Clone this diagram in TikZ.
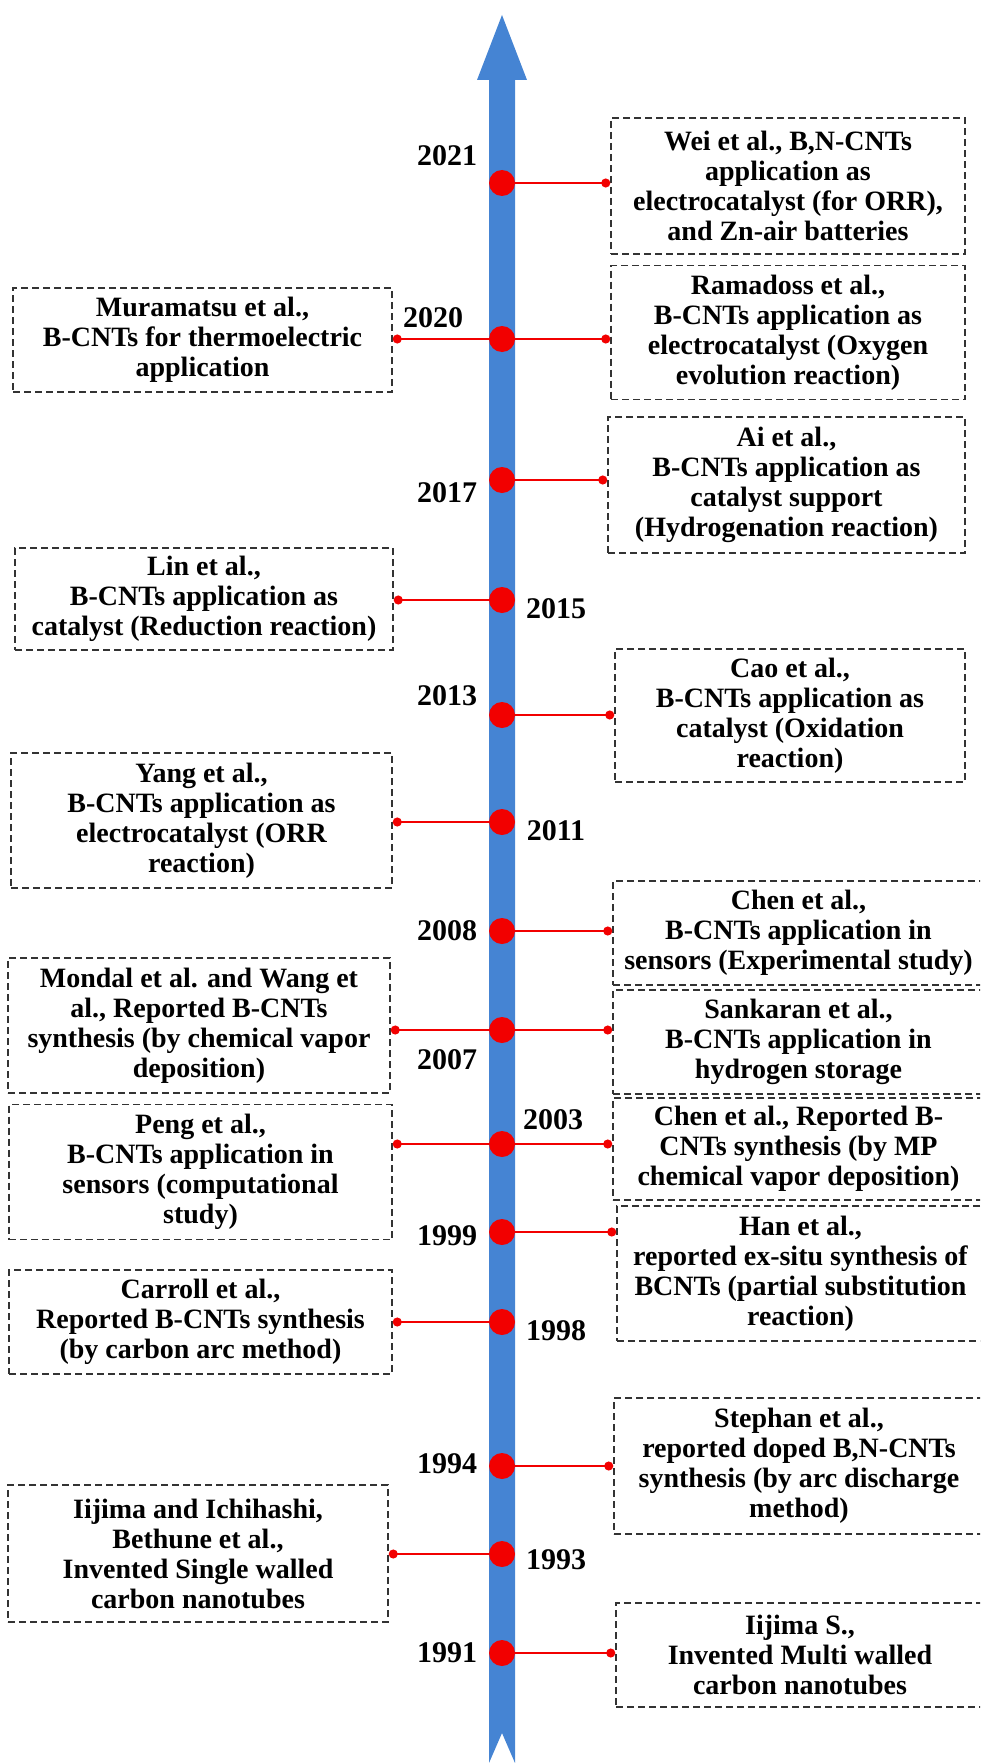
\documentclass[tikz,border=0pt]{standalone}
\usepackage{fontspec}
\setmainfont{Liberation Serif}
\usetikzlibrary{arrows.meta,positioning,calc}
\definecolor{axisblue}{HTML}{4584D3}
\definecolor{dotred}{HTML}{F20000}
\definecolor{boxgray}{HTML}{333333}

\tikzset{
  evbox/.style={draw=boxgray, line width=1.5pt, dash pattern=on 7pt off 4pt,
    align=center, inner sep=0pt, font=\fontsize{28}{30}\selectfont\bfseries},
  yearlbl/.style={font=\fontsize{30}{32}\selectfont\bfseries},
  bigdot/.style={circle, fill=dotred, minimum size=26pt, inner sep=0pt},
  conn/.style={dotred, line width=1.8pt, -{Circle[length=9pt]}},
}

\begin{document}
\begin{tikzpicture}[x=1pt,y=-1pt]
  \useasboundingbox (0,0) rectangle (980,1763);
  \clip (0,0) rectangle (980,1763);
  \fill[axisblue] (489,1763) -- (489,80) -- (477,80) -- (502,15) -- (527,80)
    -- (515,80) -- (515,1763) -- (502,1733) -- cycle;

  \path (788,186) node (wei) [evbox, minimum width=354pt, minimum height=136pt]
    {Wei et al., B,N-CNTs\\application as\\electrocatalyst (for ORR),\\and Zn-air batteries};
  \path (788,332.5) node (ram) [evbox, minimum width=354pt, minimum height=134pt]
    {Ramadoss et al.,\\B-CNTs application as\\electrocatalyst (Oxygen\\evolution reaction)};
  \path (786.5,485) node (ai) [evbox, minimum width=357pt, minimum height=136pt]
    {Ai et al.,\\B-CNTs application as\\catalyst support\\(Hydrogenation reaction)};
  \path (790,715.5) node (cao) [evbox, minimum width=350pt, minimum height=133pt]
    {Cao et al.,\\B-CNTs application as\\catalyst (Oxidation\\reaction)};
  \path (798.5,933) node (chena) [evbox, minimum width=371pt, minimum height=104pt]
    {Chen et al.,\\B-CNTs application in\\sensors (Experimental study)};
  \path (798.5,1042) node (sank) [evbox, minimum width=371pt, minimum height=104pt]
    {Sankaran et al.,\\B-CNTs application in\\hydrogen storage};
  \path (798.5,1149) node (chenb) [evbox, minimum width=371pt, minimum height=102pt]
    {Chen et al., Reported B-\\CNTs synthesis (by MP\\chemical vapor deposition)};
  \path (800.5,1273.5) node (han) [evbox, minimum width=367pt, minimum height=135pt]
    {Han et al.,\\reported ex-situ synthesis of\\BCNTs (partial substitution\\reaction)};
  \path (799,1466) node (steph) [evbox, minimum width=370pt, minimum height=136pt]
    {Stephan et al.,\\reported doped B,N-CNTs\\synthesis (by arc discharge\\method)};
  \path (800,1655) node (iijs) [evbox, minimum width=368pt, minimum height=104pt]
    {Iijima S.,\\Invented Multi walled\\carbon nanotubes};

  \path (202.5,340) node (mura) [evbox, minimum width=379pt, minimum height=104pt]
    {Muramatsu et al.,\\B-CNTs for thermoelectric\\application};
  \path (204,599) node (lin) [evbox, minimum width=378pt, minimum height=102pt]
    {Lin et al.,\\B-CNTs application as\\catalyst (Reduction reaction)};
  \path (201.5,820.5) node (yang) [evbox, minimum width=381pt, minimum height=135pt]
    {Yang et al.,\\B-CNTs application as\\electrocatalyst (ORR\\reaction)};
  \path (199,1025.5) node (mond) [evbox, minimum width=382pt, minimum height=135pt]
    {Mondal et al. and Wang et\\al., Reported B-CNTs\\synthesis (by chemical vapor\\deposition)};
  \path (200.5,1172) node (peng) [evbox, minimum width=383pt, minimum height=135pt]
    {Peng et al.,\\B-CNTs application in\\sensors (computational\\study)};
  \path (200.5,1322) node (carr) [evbox, minimum width=383pt, minimum height=104pt]
    {Carroll et al.,\\Reported B-CNTs synthesis\\(by carbon arc method)};
  \path (198,1553.5) node (iiji) [evbox, minimum width=380pt, minimum height=137pt]
    {Iijima and Ichihashi,\\Bethune et al.,\\Invented Single walled\\carbon nanotubes};

  \node (d2021) [bigdot] at (502,183) {};
  \node (d2020) [bigdot] at (502,339) {};
  \node (d2017) [bigdot] at (502,480) {};
  \node (d2015) [bigdot] at (502,600) {};
  \node (d2013) [bigdot] at (502,715) {};
  \node (d2011) [bigdot] at (502,822) {};
  \node (d2008) [bigdot] at (502,931) {};
  \node (d2007) [bigdot] at (502,1030) {};
  \node (d2003) [bigdot] at (502,1144) {};
  \node (d1999) [bigdot] at (502,1232) {};
  \node (d1998) [bigdot] at (502,1322) {};
  \node (d1994) [bigdot] at (502,1466) {};
  \node (d1993) [bigdot] at (502,1554) {};
  \node (d1991) [bigdot] at (502,1653) {};

  \draw[conn] (d2021) -- (d2021 -| wei.west);
  \draw[conn] (d2020) -- (d2020 -| ram.west);
  \draw[conn] (d2020) -- (d2020 -| mura.east);
  \draw[conn] (d2017) -- (d2017 -| ai.west);
  \draw[conn] (d2015) -- (d2015 -| lin.east);
  \draw[conn] (d2013) -- (d2013 -| cao.west);
  \draw[conn] (d2011) -- (d2011 -| yang.east);
  \draw[conn] (d2008) -- (d2008 -| chena.west);
  \draw[conn] (d2007) -- (d2007 -| sank.west);
  \draw[conn] (d2007) -- (d2007 -| mond.east);
  \draw[conn] (d2003) -- (d2003 -| chenb.west);
  \draw[conn] (d2003) -- (d2003 -| peng.east);
  \draw[conn] (d1999) -- (d1999 -| han.west);
  \draw[conn] (d1998) -- (d1998 -| carr.east);
  \draw[conn] (d1994) -- (d1994 -| steph.west);
  \draw[conn] (d1993) -- (d1993 -| iiji.east);
  \draw[conn] (d1991) -- (d1991 -| iijs.west);

  \node (y2021) [yearlbl] at (447,156) {2021};
  \node (y2020) [yearlbl] at (433,318) {2020};
  \node (y2017) [yearlbl] at (447,493) {2017};
  \node (y2015) [yearlbl] at (556,609) {2015};
  \node (y2013) [yearlbl] at (447,696) {2013};
  \node (y2011) [yearlbl] at (556,831) {2011};
  \node (y2008) [yearlbl] at (447,931) {2008};
  \node (y2007) [yearlbl] at (447,1060) {2007};
  \node (y2003) [yearlbl] at (553,1120) {2003};
  \node (y1999) [yearlbl] at (447,1236) {1999};
  \node (y1998) [yearlbl] at (556,1331) {1998};
  \node (y1994) [yearlbl] at (447,1464) {1994};
  \node (y1993) [yearlbl] at (556,1560) {1993};
  \node (y1991) [yearlbl] at (447,1653) {1991};
\end{tikzpicture}
\end{document}
